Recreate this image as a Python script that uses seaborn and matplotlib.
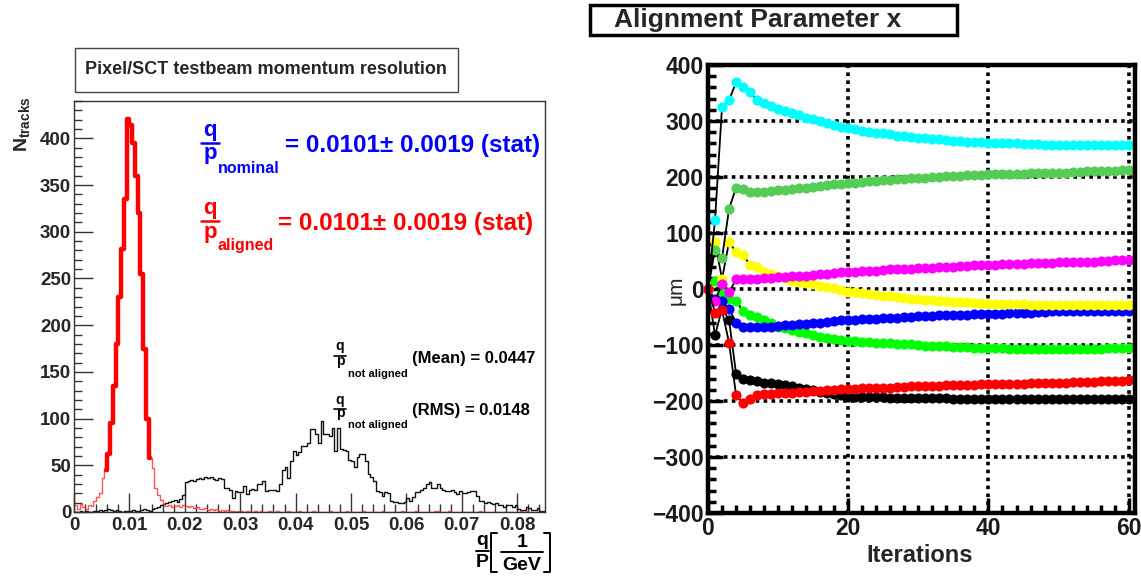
import matplotlib
matplotlib.use("Agg")
import matplotlib.pyplot as plt
import matplotlib.ticker as mticker
from matplotlib.patches import Rectangle
from matplotlib.lines import Line2D
import seaborn as sns
import numpy as np

# ── Style ─────────────────────────────────────────────
sns.set_theme(style="white")
plt.rcParams["font.family"] = ["Liberation Sans", "DejaVu Sans"]
plt.rcParams["font.weight"] = "bold"
plt.rcParams["mathtext.fontset"] = "custom"
plt.rcParams["mathtext.rm"] = "Liberation Sans:bold"
plt.rcParams["mathtext.bf"] = "Liberation Sans:bold"
plt.rcParams["mathtext.it"] = "Liberation Sans:bold"
plt.rcParams["mathtext.sf"] = "Liberation Sans:bold"

# ── Data: momentum histograms (bin width 0.0005, 0 .. 0.085) ──
BIN_WIDTH = 0.0005
N_BINS = 170

aligned_counts = [
    8, 3, 9, 5, 3, 8, 6, 12, 16, 20,
    36, 45, 62, 95, 135, 180, 230, 282, 335, 421,
    414, 395, 360, 320, 255, 175, 100, 58, 47, 26,
    18, 13, 9, 6, 8, 5, 6, 7, 5, 8,
    6, 5, 6, 4, 5, 3, 3, 4, 2, 3,
    2, 3, 1, 2, 1, 2, 1, 1, 0, 1,
    1, 0, 1, 0, 0, 1, 0, 1, 0, 0,
    1, 0, 0, 1, 0, 0, 0, 1, 0, 0,
    0, 1, 0, 0, 0, 0, 1, 0, 0, 0,
    0, 0, 1, 0, 0, 0, 0, 0, 1, 0,
    0, 0, 0, 0, 1, 0, 0, 0, 0, 0,
    0, 1, 0, 0, 0, 0, 0, 0, 1, 0,
    0, 0, 0, 1, 0, 0, 0, 0, 0, 0,
    1, 1, 0, 0, 0, 1, 0, 0, 0, 0,
    0, 0, 0, 0, 0, 0, 1, 0, 0, 0,
    0, 0, 0, 0, 0, 0, 0, 0, 0, 0,
    0, 1, 0, 1, 0, 0, 0, 0, 0, 0,
]

not_aligned_counts = [
    0, 0, 1, 0, 1, 0, 0, 1, 1, 2,
    1, 2, 3, 2, 1, 2, 1, 0, 1, 1,
    1, 2, 1, 1, 2, 3, 2, 1, 3, 4,
    5, 7, 9, 10, 11, 12, 13, 11, 14, 18,
    32, 33, 34, 33, 35, 36, 35, 37, 36, 37,
    35, 34, 36, 35, 26, 26, 24, 15, 23, 21,
    21, 28, 19, 24, 25, 24, 30, 30, 33, 23,
    24, 24, 24, 22, 30, 45, 48, 36, 55, 65,
    61, 64, 71, 71, 74, 89, 89, 84, 74, 97,
    83, 83, 81, 90, 65, 90, 67, 66, 65, 56,
    55, 48, 59, 62, 62, 55, 41, 37, 33, 23,
    21, 17, 21, 20, 12, 11, 11, 10, 10, 11,
    15, 12, 16, 21, 21, 24, 26, 30, 32, 26,
    26, 30, 26, 24, 22, 22, 24, 21, 19, 22,
    20, 20, 21, 23, 22, 17, 12, 12, 10, 11,
    10, 9, 10, 8, 7, 5, 8, 8, 5, 7,
    3, 2, 2, 5, 4, 2, 2, 4, 1, 1,
]

# bins of the aligned peak covered by the fit range (drawn thick)
FIT_FIRST, FIT_LAST = 11, 28

# ── Data: alignment parameter x per iteration ─────────
iterations = list(range(61))

cyan_x = [0, 123, 325, 337, 369, 360, 351, 337, 333, 327,
          321, 317, 314, 310, 306, 303, 300, 296, 293, 290,
          287, 285, 283, 281, 279, 278, 276, 274, 273, 271,
          270, 269, 268, 267, 266, 265, 264, 263, 262, 262,
          261, 261, 260, 260, 260, 259, 259, 259, 258, 258,
          258, 258, 258, 257, 257, 257, 257, 257, 257, 257, 257]
green_x = [0, 70, 55, 143, 181, 179, 174, 173, 174, 175,
           176, 177, 178, 180, 181, 183, 184, 185, 187, 188,
           189, 190, 191, 192, 193, 194, 195, 196, 197, 198,
           199, 199, 200, 200, 201, 201, 202, 203, 204, 204,
           205, 205, 205, 206, 206, 206, 207, 207, 207, 208,
           208, 208, 209, 209, 210, 210, 210, 211, 211, 212, 212]
yellow_x = [0, 84, 18, 84, 66, 61, 43, 40, 31, 27,
            23, 19, 15, 13, 11, 9, 6, 3, 1, -2,
            -5, -6, -8, -9, -11, -12, -13, -14, -16, -17,
            -18, -19, -20, -21, -22, -23, -24, -24, -25, -25,
            -26, -26, -26, -27, -27, -27, -28, -28, -28, -28,
            -29, -29, -29, -29, -29, -29, -29, -29, -29, -29, -29]
magenta_x = [0, -21, 9, -6, 17, 17, 17, 18, 19, 20,
             21, 22, 23, 24, 24, 25, 26, 27, 28, 30,
             31, 31, 32, 33, 33, 34, 35, 35, 36, 36,
             37, 38, 38, 39, 39, 40, 41, 41, 42, 42,
             43, 43, 44, 44, 45, 45, 46, 46, 47, 47,
             48, 48, 49, 49, 49, 49, 50, 50, 51, 51, 52]
blue_x = [0, -18, -22, -35, -60, -67, -68, -68, -67, -67,
          -66, -65, -64, -63, -62, -61, -60, -59, -57, -56,
          -55, -55, -54, -53, -53, -52, -51, -51, -50, -50,
          -49, -48, -48, -47, -47, -46, -46, -46, -45, -45,
          -45, -44, -44, -43, -43, -42, -42, -41, -41, -40,
          -40, -40, -40, -39, -39, -39, -39, -39, -39, -39, -39]
lime_x = [0, 15, -5, -18, -21, -40, -46, -50, -55, -61,
          -67, -70, -73, -76, -79, -82, -85, -88, -90, -91,
          -92, -93, -94, -95, -96, -96, -97, -98, -99, -99,
          -100, -101, -101, -102, -102, -103, -104, -104, -105, -105,
          -106, -106, -106, -107, -107, -107, -107, -107, -107, -107,
          -107, -107, -107, -107, -107, -107, -107, -106, -106, -106, -106]
red_x = [0, -42, -38, -96, -189, -204, -196, -190, -188, -187,
         -186, -186, -185, -184, -184, -183, -182, -181, -180, -179,
         -178, -178, -177, -177, -176, -176, -176, -175, -175, -174,
         -174, -174, -173, -173, -172, -172, -172, -171, -171, -170,
         -170, -170, -170, -169, -169, -169, -168, -168, -168, -167,
         -167, -167, -166, -166, -166, -166, -165, -165, -164, -164, -163]
black_x = [0, -83, -35, -55, -151, -160, -163, -165, -167, -168,
           -170, -172, -174, -177, -179, -181, -184, -186, -188, -190,
           -192, -192, -193, -193, -193, -193, -194, -194, -194, -195,
           -195, -195, -195, -195, -195, -196, -196, -196, -196, -196,
           -196, -196, -196, -196, -196, -196, -196, -196, -196, -196,
           -196, -196, -196, -196, -196, -196, -196, -196, -196, -196, -196]

series = [
    (black_x, "#000000"),
    (lime_x, "#00ff00"),
    (blue_x, "#0000ff"),
    (yellow_x, "#ffff00"),
    (magenta_x, "#ff00ff"),
    (green_x, "#55cc55"),
    (cyan_x, "#00ffff"),
    (red_x, "#ff0000"),
]

# ── Figure ────────────────────────────────────────────
W, H = 1141, 576
fig = plt.figure(figsize=(W / 100, H / 100), dpi=100)


def fx(px):
    return px / W


def fy(py):
    return 1 - py / H


def stacked(xc, top, top_base, bottom, bottom_base, bar_y, half, size, color, bar_lw):
    # ROOT-style fraction: numerator, bar, denominator
    fig.text(fx(xc), fy(top_base), top, ha="center", va="baseline",
             fontsize=size, color=color)
    fig.text(fx(xc), fy(bottom_base), bottom, ha="center", va="baseline",
             fontsize=size, color=color)
    fig.add_artist(Line2D([fx(xc - half), fx(xc + half)], [fy(bar_y)] * 2,
                          transform=fig.transFigure, color=color, lw=bar_lw))


def frac_label(xc, num_base, den_base, bar_y, half, size, sub, sub_x, sub_base,
               sub_size, color, bar_lw):
    stacked(xc, "q", num_base, "p", den_base, bar_y, half, size, color, bar_lw)
    fig.text(fx(sub_x), fy(sub_base), sub, ha="left", va="baseline",
             fontsize=sub_size, color=color)


def bracket(x_edge, x_tip, y0, y1, lw=1.4):
    fig.add_artist(Line2D([fx(x_tip), fx(x_edge), fx(x_edge), fx(x_tip)],
                          [fy(y0), fy(y0), fy(y1), fy(y1)],
                          transform=fig.transFigure, color="black", lw=lw))


# ── Left panel: momentum resolution histogram ─────────
axL = fig.add_axes([fx(74), fy(512), 471 / W, 411 / H])
centers = (np.arange(N_BINS) + 0.5) * BIN_WIDTH
q_range = (0, N_BINS * BIN_WIDTH)

sns.histplot(x=centers, weights=np.array(not_aligned_counts, dtype=float),
             binwidth=BIN_WIDTH, binrange=q_range, element="step",
             fill=False, color="#111111", linewidth=1.0, ax=axL)
sns.histplot(x=centers, weights=np.array(aligned_counts, dtype=float),
             binwidth=BIN_WIDTH, binrange=q_range, element="step",
             fill=False, color="#ff2020", linewidth=1.0, alpha=0.75, ax=axL)
sns.lineplot(x=centers[FIT_FIRST:FIT_LAST], y=aligned_counts[FIT_FIRST:FIT_LAST],
             drawstyle="steps-mid", color="#ff0000", linewidth=3.2, ax=axL)

axL.set_xlim(0, 0.085)
axL.set_ylim(0, 440)
axL.set_xlabel("")
axL.set_ylabel("")
axL.xaxis.set_major_locator(mticker.MultipleLocator(0.01))
axL.xaxis.set_minor_locator(mticker.MultipleLocator(0.002))
axL.yaxis.set_major_locator(mticker.MultipleLocator(50))
axL.yaxis.set_minor_locator(mticker.MultipleLocator(10))
axL.xaxis.set_major_formatter(mticker.FuncFormatter(lambda v, p: f"{v:g}"))
axL.tick_params(which="both", direction="in", labelsize=13.5, width=1,
                color="#333333", top=False, right=False, bottom=True, left=True)
axL.tick_params(which="major", length=14)
axL.tick_params(which="minor", length=6)
axL.tick_params(axis="x", pad=3.5)
axL.tick_params(axis="y", pad=2)
for sp in axL.spines.values():
    sp.set_linewidth(1.0)
    sp.set_color("#333333")

# title box
fig.add_artist(Rectangle((fx(75), fy(92)), 383 / W, 44 / H, transform=fig.transFigure,
                         facecolor="white", edgecolor="#444444", linewidth=1))
fig.text(fx(266), fy(70), "Pixel/SCT testbeam momentum resolution",
         ha="center", va="center", fontsize=13)

# axis labels
fig.text(fx(22), fy(124), r"$N_{tracks}$", rotation=90, ha="center", va="center",
         fontsize=14)
stacked(482, "q", 545, "P", 567, 550.5, 6.5, 14, "black", 1.4)
bracket(491, 497, 533, 572)
stacked(522, "1", 547, "GeV", 570, 551.5, 21, 14, "black", 1.4)
bracket(550, 544, 533, 572)

# result annotations
frac_label(210, 136, 159, 143, 9, 16, "nominal", 218, 173, 11.5, "#0000ff", 1.8)
fig.text(fx(285), fy(152), "= 0.0101\u00b1 0.0019 (stat)", ha="left", va="baseline",
         fontsize=17.5, color="#0000ff")
frac_label(210, 214, 238, 221, 9, 16, "aligned", 218, 250, 11.5, "#ff0000", 1.8)
fig.text(fx(278), fy(230), "= 0.0101\u00b1 0.0019 (stat)", ha="left", va="baseline",
         fontsize=17.5, color="#ff0000")
frac_label(340, 350, 365, 356, 6, 10, "not aligned", 348, 377, 8, "black", 1.2)
fig.text(fx(412), fy(363), "(Mean) = 0.0447", ha="left", va="baseline",
         fontsize=12, color="black")
frac_label(340, 404, 417, 409, 6, 10, "not aligned", 348, 428, 8, "black", 1.2)
fig.text(fx(412), fy(415), "(RMS) = 0.0148", ha="left", va="baseline",
         fontsize=12, color="black")

# ── Right panel: alignment parameter vs iteration ─────
axR = fig.add_axes([fx(708), fy(513), 427 / W, 448 / H])
for values, colour in series:
    sns.lineplot(x=iterations, y=values, color="black", linewidth=1.3,
                 marker="o", markersize=7.3, markerfacecolor=colour,
                 markeredgecolor=colour, markeredgewidth=0, clip_on=False, ax=axR)

axR.set_xlim(0, 60.9)
axR.set_ylim(-400, 400)
axR.set_xlabel("")
axR.set_ylabel("")
axR.xaxis.set_major_locator(mticker.MultipleLocator(20))
axR.xaxis.set_minor_locator(mticker.MultipleLocator(2))
axR.yaxis.set_major_locator(mticker.MultipleLocator(100))
axR.yaxis.set_minor_locator(mticker.MultipleLocator(20))
axR.grid(True, which="major", color="black", linestyle=(0, (1, 1.2)), linewidth=2.6)
axR.tick_params(which="both", direction="in", labelsize=16.5, width=2.5,
                color="black", labelcolor="#1a1a1a", top=False, right=False,
                bottom=True, left=True, pad=3)
axR.tick_params(which="major", length=11)
axR.tick_params(which="minor", length=6)
for sp in axR.spines.values():
    sp.set_linewidth(3.2)
    sp.set_color("black")
    sp.set_zorder(5)

fig.add_artist(Rectangle((fx(590), fy(35)), 367 / W, 30 / H, transform=fig.transFigure,
                         facecolor="white", edgecolor="black", linewidth=2.5))
fig.text(fx(758), fy(20), "Alignment Parameter x", ha="center", va="center",
         fontsize=19)
fig.text(fx(676), fy(290), "\u03bcm", rotation=90, ha="center", va="center",
         fontsize=15, fontweight="normal")
fig.text(fx(920), fy(556), "Iterations", ha="center", va="center", fontsize=17)

fig.savefig("out.png", dpi=100)
plt.close(fig)
